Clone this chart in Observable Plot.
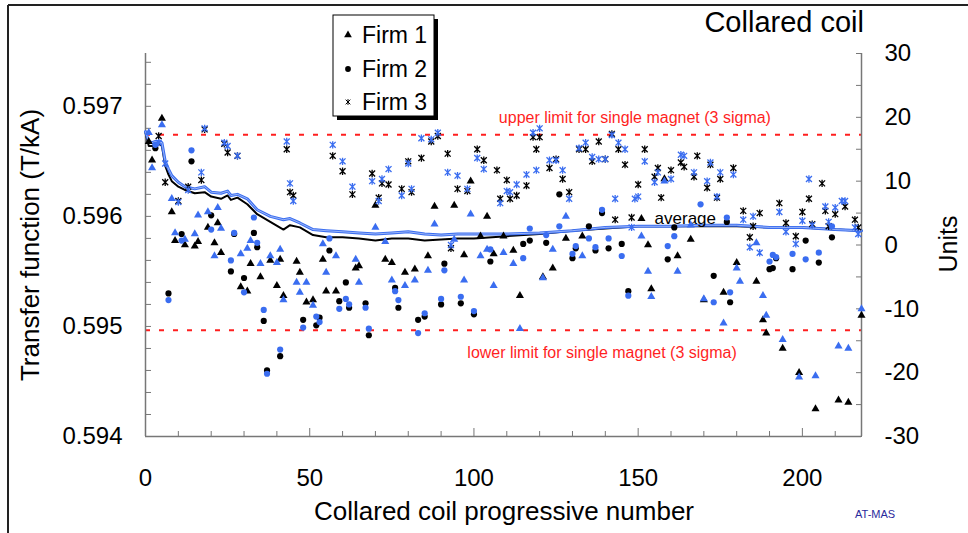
<!DOCTYPE html>
<html>
<head>
<meta charset="utf-8">
<script src="https://cdn.jsdelivr.net/npm/d3@7"></script>
<script src="https://cdn.jsdelivr.net/npm/@observablehq/plot@0.6"></script>
<style>
html, body { margin: 0; padding: 0; background: #fff; }
#chart { width: 968px; height: 533px; overflow: hidden; }
</style>
</head>
<body>
<div id="chart"></div>
<script>
// ---- data: [coil number, aperture 1 (black), aperture 2 (blue)] in T/kA ----
const firm1 = [
  [1,0.59668,0.59676],[2,0.59651,0.59644],[5,0.59689,0.59683],[8,0.59604,0.59616],
  [9,0.59578,0.59585],[12,0.59574,0.59579],[15,0.59573,0.59584],[16,0.59577,0.59601],
  [19,0.59590,0.59604],[21,0.59576,0.59564],[22,0.59594,0.59608],[23,0.59567,0.59589],
  [29,0.59536,0.59566],[31,0.59532,0.59571],[32,0.59557,0.59578],[35,0.59545,0.59557],
  [38,0.59560,0.59564],[40,0.59537,0.59558],[41,0.59561,0.59570],[42,0.59528,0.59524],
  [46,0.59559,0.59540],[47,0.59549,0.59531],[49,0.59522,0.59540],[51,0.59524,0.59519],
  [54,0.59561,0.59575],[55,0.59532,0.59549],[58,0.59532,0.59564],[64,0.59553,0.59561],
  [65,0.59555,0.59540],[70,0.59610,0.59590],[73,0.59561,0.59577],[75,0.59558,0.59542],
  [79,0.59549,0.59537],[82,0.59552,0.59542],[86,0.59564,0.59551],[88,0.59609,0.59593],
  [94,0.59610,0.59579],[97,0.59565,0.59542],[99,0.59632,0.59602],[102,0.59582,0.59564],
  [104,0.59600,0.59570],[106,0.59566,0.59537],[109,0.59582,0.59567],[112,0.59569,0.59557],
  [114,0.59528,0.59498],[121,0.59545,0.59544],[124,0.59553,0.59570],[128,0.59580,0.59600],
  [133,0.59582,0.59564],[151,0.59598,0.59582],[153,0.59574,0.59550],[154,0.59534,0.59527],
  [158,0.59634,0.59632],[162,0.59564,0.59550],[166,0.59579,0.59592],[170,0.59524,0.59525],
  [176,0.59531,0.59503],[180,0.59558,0.59553],[181,null,0.59541],[186,0.59541,0.59576],
  [188,0.59506,0.59528],[189,0.59494,0.59510],[194,0.59480,0.59488],[199,0.59458,0.59454],
  [204,0.59425,0.59455],[211,0.59433,0.59482],[214,0.59431,0.59480],[218,0.59510,0.59516]
];
const firm2 = [
  [3,0.59662,0.59665],[7,0.59530,0.59524],[11,0.59584,0.59578],[14,0.59650,0.59660],
  [20,0.59601,0.59588],[26,0.59550,0.59560],[27,0.59584,0.59585],[30,0.59544,0.59531],
  [33,0.59585,0.59599],[34,0.59572,0.59576],[36,0.59505,0.59515],[37,0.59460,0.59457],
  [41,0.59473,0.59479],[48,0.59506,0.59499],[52,0.59501,0.59509],[53,0.59508,0.59504],
  [56,0.59569,0.59580],[59,0.59523,0.59516],[61,0.59540,0.59525],[62,0.59517,0.59520],
  [67,0.59521,0.59517],[68,0.59492,0.59498],[76,0.59535,0.59532],[77,0.59517,0.59524],
  [83,0.59506,0.59494],[85,0.59509,0.59512],[90,0.59520,0.59525],[91,0.59557,0.59551],
  [96,0.59521,0.59527],[100,0.59511,0.59514],[105,0.59559,0.59570],[115,0.59575,0.59562],
  [117,0.59578,0.59589],[122,0.59576,0.59583],[126,0.59620,0.59591],[130,0.59562,0.59566],
  [131,0.59571,0.59573],[135,0.59591,0.59580],[137,0.59569,0.59572],[139,0.59603,0.59606],
  [141,0.59571,0.59580],[145,0.59575,0.59564],[147,0.59532,0.59528],[159,0.59561,0.59573],
  [161,0.59590,0.59582],[169,null,0.59611],[173,0.59546,0.59522],[177,0.59595,0.59599],
  [178,0.59522,0.59531],[190,0.59552,0.59559],[191,0.59553,0.59565],[192,0.59562,0.59563],
  [197,0.59552,0.59566],[201,0.59578,0.59561],[205,0.59558,0.59567],[209,0.59581,0.59591]
];
const firm3 = [
  [4,0.59673,0.59667],[6,0.59631,0.59648],[10,0.59614,0.59613],[13,0.59627,0.59624],
  [17,0.59633,0.59640],[18,0.59679,0.59680],[24,0.59666,0.59667],[25,0.59658,0.59664],
  [28,0.59655,0.59655],[43,0.59661,0.59668],[44,0.59622,0.59630],[45,0.59619,0.59614],
  [57,0.59655,0.59665],[60,0.59641,0.59650],[63,0.59620,0.59627],[69,0.59639,0.59632],
  [71,0.59617,0.59614],[72,0.59630,0.59634],[74,0.59629,0.59643],[78,0.59625,0.59619],
  [80,0.59650,0.59648],[81,0.59622,0.59625],[84,0.59653,0.59671],[87,0.59668,0.59670],
  [89,0.59673,0.59676],[92,0.59657,0.59640],[93,0.59571,0.59574],[95,0.59625,0.59637],
  [98,0.59623,0.59625],[101,0.59661,0.59653],[103,0.59651,0.59643],[107,0.59642,null],
  [108,0.59616,0.59612],[110,0.59633,0.59623],[111,0.59616,0.59622],[113,0.59619,0.59629],
  [116,0.59628,0.59638],[118,0.59672,0.59676],[119,0.59661,0.59642],[120,0.59672,0.59680],
  [123,0.59644,0.59651],[125,0.59652,0.59651],[127,0.59634,0.59642],[129,0.59622,0.59616],
  [132,0.59661,0.59662],[134,0.59661,0.59667],[136,0.59650,0.59654],[138,0.59668,0.59652],
  [140,0.59652,0.59652],[142,0.59675,0.59674],[143,0.59597,0.59616],[144,0.59661,0.59667],
  [146,0.59647,0.59661],[148,0.59599,0.59590],[149,null,0.59616],[150,0.59629,0.59618],
  [152,0.59661,0.59650],[155,0.59636,0.59631],[156,0.59644,0.59640],[157,0.59617,null],
  [160,0.59642,0.59634],[163,0.59649,0.59656],[164,0.59645,0.59655],[167,0.59636,0.59640],
  [168,0.59655,null],[171,0.59626,0.59632],[172,0.59647,0.59649],[174,0.59617,0.59618],
  [175,0.59634,0.59640],[179,0.59644,0.59638],[182,0.59605,0.59597],[184,0.59581,0.59572],
  [185,0.59591,0.59600],[187,0.59603,0.59567],[193,0.59612,0.59604],[195,0.59594,0.59586],
  [198,0.59582,0.59575],[200,0.59604,0.59596],[202,0.59616,0.59634],[203,0.59593,0.59592],
  [206,0.59630,null],[207,0.59605,0.59609],[208,0.59591,0.59595],[210,0.59602,0.59608],
  [212,null,0.59614],[213,0.59609,0.59614],[216,0.59597,0.59590],[217,0.59590,0.59584]
];
// running averages
const avgN     = [0,1,2,3,4,5,6,7,8,10,12,15,18,20,23,25,26,28,31,34,38,42,44,47,51,55,60,65,70,75,80,85,90,95,100,110,120,130,140,150,160,170,180,190,200,210,218];
const avgBlack = [0.59676,0.59664,0.59664,0.59665,0.59666,0.59664,0.59646,0.59638,0.59632,0.59627,0.59624,0.59621,0.59622,0.59618,0.59616,0.59619,0.59615,0.59617,0.59611,0.59602,0.59595,0.59588,0.59592,0.59590,0.59583,0.59581,0.59581,0.59580,0.59578,0.59580,0.59580,0.59578,0.59579,0.59580,0.59580,0.59582,0.59584,0.59587,0.59589,0.59591,0.59591,0.59591,0.59591,0.59590,0.59590,0.59588,0.59587];
const avgBlue  = [0.59677,0.59668,0.59667,0.59668,0.59668,0.59667,0.59650,0.59643,0.59637,0.59631,0.59627,0.59625,0.59627,0.59622,0.59621,0.59623,0.59619,0.59620,0.59616,0.59606,0.59600,0.59597,0.59598,0.59594,0.59588,0.59587,0.59586,0.59585,0.59584,0.59585,0.59586,0.59584,0.59583,0.59584,0.59584,0.59584,0.59585,0.59587,0.59590,0.59591,0.59591,0.59592,0.59592,0.59590,0.59590,0.59588,0.59587];
const limits = [0.596742, 0.594966];
const limitLabels = ["upper limit for single magnet (3 sigma)", "lower limit for single magnet (3 sigma)"];
const xDomain = [0, 218];
const yDomain = [0.594, 0.59748];
const unitDomain = [-30, 30];
const xTickLabels = [0, 50, 100, 150, 200];
const yTickLabels = [0.594, 0.595, 0.596, 0.597];
const unitTickLabels = [-30, -20, -10, 0, 10, 20, 30];

// ---- helpers ----
const BLUE = "#3a6df0";
const AX = "#777";
const pts = (rows, k) => rows.filter(r => r[k] != null).map(r => ({n: r[0], tf: r[k]}));
const avgData = avgN.map((n, i) => ({n, black: avgBlack[i], blue: avgBlue[i]}));
// right-hand "Units" scale shares the pixel range of the left axis
const unitToTf = u => yDomain[0] + (u - unitDomain[0]) / (unitDomain[1] - unitDomain[0]) * (yDomain[1] - yDomain[0]);
const tfToUnit = t => unitDomain[0] + (t - yDomain[0]) / (yDomain[1] - yDomain[0]) * (unitDomain[1] - unitDomain[0]);
const yMinor = d3.range(0, 18).map(i => +(0.594 + i * 0.0002).toFixed(4));
const unitMinor = d3.range(-30, 31, 5).map(unitToTf);
const xMinor = d3.range(10, 220, 10).filter(v => v % 50 !== 0);

// "Ж"-like asterisk: a cross with a vertical bar
const starSymbol = {
  draw(ctx, size) {
    const r = Math.sqrt(size / Math.PI);
    const d = r * 0.85;
    ctx.moveTo(-d, -d); ctx.lineTo(d, d);
    ctx.moveTo(-d, d); ctx.lineTo(d, -d);
    ctx.moveTo(0, -r * 1.05); ctx.lineTo(0, r * 1.05);
  }
};

const F = "Liberation Sans, Arial, Helvetica, sans-serif";

const chart = Plot.plot({
  width: 968,
  height: 533,
  marginTop: 53,
  marginBottom: 97,
  marginLeft: 145,
  marginRight: 107,
  style: {fontFamily: F, background: "transparent", overflow: "visible"},
  x: {domain: xDomain},
  y: {domain: yDomain},
  marks: [
    // limits
    Plot.ruleY(limits, {stroke: "#ff1f1f", strokeWidth: 2, strokeDasharray: "5,9"}),
    Plot.text([limitLabels[0]], {x: () => 149, y: () => limits[0], text: d => d, dy: -17, fill: "#ff1f1f", fontSize: 16, textAnchor: "middle"}),
    Plot.text([limitLabels[1]], {x: () => 139, y: () => limits[1], text: d => d, dy: 23, fill: "#ff1f1f", fontSize: 16, textAnchor: "middle"}),
    // axis lines
    Plot.ruleX([xDomain[0]], {stroke: AX, strokeWidth: 1.5}),
    Plot.ruleX([xDomain[1]], {stroke: AX, strokeWidth: 1.5}),
    Plot.ruleY([yDomain[0]], {stroke: AX, strokeWidth: 1.5}),
    // left axis
    Plot.axisY(yMinor, {anchor: "left", tickSize: 6, dx: 6, stroke: AX, tickFormat: () => "", label: null}),
    Plot.axisY(yTickLabels, {anchor: "left", tickSize: 0, tickPadding: 23, tickFormat: d => d.toFixed(3), fontSize: 24, fill: "#000", label: null}),
    // right axis (Units)
    Plot.axisY(unitMinor, {anchor: "right", tickSize: 6, dx: -6, stroke: AX, tickFormat: () => "", label: null}),
    Plot.axisY(unitTickLabels.map(unitToTf), {anchor: "right", tickSize: 0, tickPadding: 23, tickFormat: d => String(Math.round(tfToUnit(d))), fontSize: 24, fill: "#000", label: null}),
    // bottom axis
    Plot.axisX(xMinor, {anchor: "bottom", tickSize: 5, dy: -5, stroke: AX, tickFormat: () => "", label: null}),
    Plot.axisX(xTickLabels, {anchor: "bottom", tickSize: 8, dy: -8, stroke: AX, tickFormat: () => "", label: null}),
    Plot.axisX(xTickLabels, {anchor: "bottom", tickSize: 0, tickPadding: 32, fontSize: 24, fill: "#000", label: null}),
    // running averages
    Plot.line(avgData, {x: "n", y: "black", stroke: "#000", strokeWidth: 2}),
    Plot.line(avgData, {x: "n", y: "blue", stroke: BLUE, strokeWidth: 3}),
    Plot.line(avgData, {x: "n", y: "blue", stroke: "#fff", strokeWidth: 0.7, strokeOpacity: 0.7}),
    Plot.text(["average"], {x: () => 155, y: () => avgBlue[39], text: d => d, dy: -8, fontSize: 17, fill: "#000", textAnchor: "start"}),
    // aperture 1 (black)
    Plot.dot(pts(firm1, 1), {x: "n", y: "tf", symbol: "triangle", fill: "#000", r: 3.0}),
    Plot.dot(pts(firm2, 1), {x: "n", y: "tf", symbol: "circle", fill: "#000", r: 3.1}),
    Plot.dot(pts(firm3, 1), {x: "n", y: "tf", symbol: starSymbol, stroke: "#000", fill: "none", r: 3.5, strokeWidth: 1.3}),
    // aperture 2 (blue)
    Plot.dot(pts(firm1, 2), {x: "n", y: "tf", symbol: "triangle", fill: BLUE, r: 3.0}),
    Plot.dot(pts(firm2, 2), {x: "n", y: "tf", symbol: "circle", fill: BLUE, r: 3.1}),
    Plot.dot(pts(firm3, 2), {x: "n", y: "tf", symbol: starSymbol, stroke: BLUE, fill: "none", r: 3.5, strokeWidth: 1.3})
  ]
});

document.getElementById("chart").appendChild(chart);

// ---- decorations: frame, titles, legend ----
const svg = d3.select(chart);
const g = svg.append("g").attr("font-family", F).attr("text-anchor", "start");
g.append("line").attr("x1", 8).attr("x2", 968).attr("y1", 5).attr("y2", 5).attr("stroke", "#222").attr("stroke-width", 2);
g.append("line").attr("x1", 8).attr("x2", 8).attr("y1", 5).attr("y2", 533).attr("stroke", "#222").attr("stroke-width", 2);

g.append("text").attr("x", 864).attr("y", 32).attr("text-anchor", "end").attr("font-size", 29).attr("fill", "#000").text("Collared coil");
g.append("text").attr("transform", "translate(39,245) rotate(-90)").attr("text-anchor", "middle").attr("font-size", 26).attr("fill", "#000").text("Transfer function (T/kA)");
g.append("text").attr("transform", "translate(957,244) rotate(-90)").attr("text-anchor", "middle").attr("font-size", 25).attr("fill", "#000").text("Units");
g.append("text").attr("x", 504).attr("y", 520).attr("text-anchor", "middle").attr("font-size", 26).attr("fill", "#000").text("Collared coil progressive number");
g.append("text").attr("x", 855).attr("y", 518).attr("text-anchor", "start").attr("font-size", 11).attr("fill", "#2a2a9c").text("AT-MAS");

// legend
const legendItems = [
  {label: "Firm 1", type: d3.symbolTriangle, y: 43},
  {label: "Firm 2", type: d3.symbolCircle, y: 77},
  {label: "Firm 3", type: starSymbol, y: 110}
];
const lg = g.append("g");
lg.append("rect").attr("x", 333).attr("y", 15).attr("width", 101).attr("height", 101).attr("fill", "#fff").attr("stroke", "#000").attr("stroke-width", 1);
lg.append("rect").attr("x", 434).attr("y", 19).attr("width", 4).attr("height", 101).attr("fill", "#000").attr("stroke", "none");
lg.append("rect").attr("x", 337).attr("y", 116).attr("width", 101).attr("height", 4).attr("fill", "#000").attr("stroke", "none");
legendItems.forEach(it => {
  const isAst = it.type === starSymbol;
  lg.append("path")
    .attr("transform", `translate(348,${it.y - 8})`)
    .attr("d", d3.symbol(it.type, isAst ? 24 : 26)())
    .attr("fill", isAst ? "none" : "#000")
    .attr("stroke", isAst ? "#000" : "none")
    .attr("stroke-width", 1);
  lg.append("text").attr("x", 362).attr("y", it.y).attr("text-anchor", "start").attr("font-size", 23).attr("fill", "#000").text(it.label);
});
</script>
</body>
</html>
